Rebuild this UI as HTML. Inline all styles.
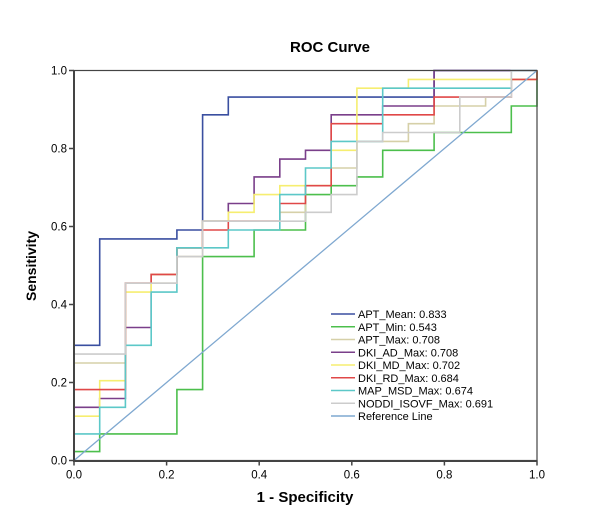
<!DOCTYPE html>
<html><head><meta charset="utf-8"><style>
body{margin:0;background:#fff;font-family:"Liberation Sans",sans-serif;}
svg text{font-family:"Liberation Sans",sans-serif;}
</style></head><body>
<svg id="chart" width="609" height="527" xmlns="http://www.w3.org/2000/svg">
<rect width="609" height="527" fill="#fff"/>
<text x="330" y="52" font-size="15" font-weight="bold" text-anchor="middle">ROC Curve</text>
<text transform="translate(36,266) rotate(-90)" font-size="14" font-weight="bold" text-anchor="middle">Sensitivity</text>
<text x="305" y="502" font-size="15" font-weight="bold" text-anchor="middle">1 - Specificity</text>
<g id="ticks"></g>
<g id="series"></g>
<rect x="74" y="70.5" width="463" height="390" fill="none" stroke="#444" stroke-width="1.2"/>
<line x1="74" y1="70" x2="74" y2="461" stroke="#444" stroke-width="2"/>
<line x1="73" y1="461" x2="537" y2="461" stroke="#444" stroke-width="2"/>
<g id="legend"></g>
</svg>
<script>
const tickValues = [0, 0.2, 0.4, 0.6, 0.8, 1.0];
const tickLabels = ["0.0", "0.2", "0.4", "0.6", "0.8", "1.0"];
const seriesNames = ["APT_Mean: 0.833","APT_Min: 0.543","APT_Max: 0.708","DKI_AD_Max: 0.708","DKI_MD_Max: 0.702","DKI_RD_Max: 0.684","MAP_MSD_Max: 0.674","NODDI_ISOVF_Max: 0.691","Reference Line"];
const seriesColors = ["#3a4fa0","#4cbf4c","#d6d0a8","#7a3f8a","#f6ee70","#e04848","#5cc8c8","#cccccc","#7fa8d0"];
const nNeg = 18, nPos = 44;
const aptMeanFP = [0,0,1,1,4,4,5,5,6,6,14,14,18];
const aptMeanTP = [0,13,13,25,25,26,26,39,39,41,41,44,44];
const aptMinFP = [0,0,1,1,4,4,5,5,7,7,9,9,10,10,11,11,12,12,14,14,17,17,18,18];
const aptMinTP = [0,1,1,3,3,8,8,23,23,26,26,30,30,31,31,32,32,35,35,37,37,40,40,44];
const aptMaxFP = [0,0,2,2,4,4,5,5,8,8,9,9,10,10,11,11,13,13,14,14,16,16,17,17,18,18];
const aptMaxTP = [0,11,11,20,20,23,23,27,27,28,28,31,31,33,33,36,36,38,38,40,40,41,41,43,43,44];
const dkiAdFP = [0,0,1,1,2,2,3,3,4,4,5,5,6,6,7,7,8,8,9,9,10,10,12,12,14,14,18];
const dkiAdTP = [0,6,6,7,7,15,15,21,21,24,24,27,27,29,29,32,32,34,34,35,35,39,39,40,40,44,44];
const dkiMdFP = [0,0,1,1,2,2,3,3,4,4,5,5,6,6,7,7,8,8,10,10,11,11,13,13,18,18];
const dkiMdTP = [0,5,5,9,9,19,19,21,21,24,24,27,27,28,28,30,30,31,31,35,35,42,42,43,43,44];
const dkiRdFP = [0,0,2,2,3,3,4,4,5,5,6,6,8,8,9,9,10,10,12,12,14,14,17,17,18,18];
const dkiRdTP = [0,8,8,20,20,21,21,24,24,26,26,27,27,29,29,31,31,38,38,39,39,41,41,43,43,44];
const mapMsdFP = [0,0,1,1,2,2,3,3,4,4,6,6,8,8,9,9,10,10,12,12,17,17,18];
const mapMsdTP = [0,3,3,6,6,13,13,19,19,24,24,26,26,30,30,33,33,36,36,42,42,44,44];
const nodFP = [0,0,2,2,4,4,5,5,9,9,10,10,11,11,12,12,15,15,17,17,18];
const nodTP = [0,12,12,20,20,23,23,27,27,28,28,30,30,36,36,37,37,41,41,44,44];
const refFP = [0,18];
const refTP = [0,44];
const allFP = [aptMeanFP,aptMinFP,aptMaxFP,dkiAdFP,dkiMdFP,dkiRdFP,mapMsdFP,nodFP,refFP];
const allTP = [aptMeanTP,aptMinTP,aptMaxTP,dkiAdTP,dkiMdTP,dkiRdTP,mapMsdTP,nodTP,refTP];
const slugs = ["apt-mean","apt-min","apt-max","dki-ad-max","dki-md-max","dki-rd-max","map-msd-max","noddi-isovf-max","reference-line"];

const X0=74, X1=537, Y0=460.5, Y1=70.5;
const xS = v => X0 + v*(X1-X0);
const yS = v => Y0 - v*(Y0-Y1);
const NS="http://www.w3.org/2000/svg";
const mk=(t,a,p)=>{const e=document.createElementNS(NS,t);for(const k in a)e.setAttribute(k,a[k]);p.appendChild(e);return e;};

const tg=document.getElementById('ticks');
tickValues.forEach((v,i)=>{
  let l=mk('line',{x1:xS(v),y1:Y0,x2:xS(v),y2:Y0+5,stroke:'#444','stroke-width':1.5},tg);
  
  
  let t=mk('text',{x:xS(v),y:Y0+18,'font-size':11.5,'text-anchor':'middle'},tg);
  t.textContent=tickLabels[i];
  
  
  let l2=mk('line',{x1:X0-5,y1:yS(v),x2:X0,y2:yS(v),stroke:'#444','stroke-width':1.5},tg);
  
  
  let t2=mk('text',{x:X0-7,y:yS(v)+4,'font-size':11.5,'text-anchor':'end'},tg);
  t2.textContent=tickLabels[i];
  
  
});

const sg=document.getElementById('series');
allFP.forEach((fp,i)=>{
  const tp=allTP[i];
  const pts=fp.map((f,j)=>xS(f/nNeg).toFixed(1)+','+yS(tp[j]/nPos).toFixed(1)).join(' ');
  const pl=mk('polyline',{points:pts,fill:'none',stroke:seriesColors[i],'stroke-width':i==8?1.3:1.6},sg);
  
  
});

const lg=document.getElementById('legend');
seriesNames.forEach((n,i)=>{
  const y=314+i*12.75;
  const l=mk('line',{x1:331,y1:y,x2:355,y2:y,stroke:seriesColors[i],'stroke-width':1.6},lg);
  
  
  const t=mk('text',{x:358,y:y+4,'font-size':11},lg);
  t.textContent=n;
  
  
});
</script>
</body></html>
